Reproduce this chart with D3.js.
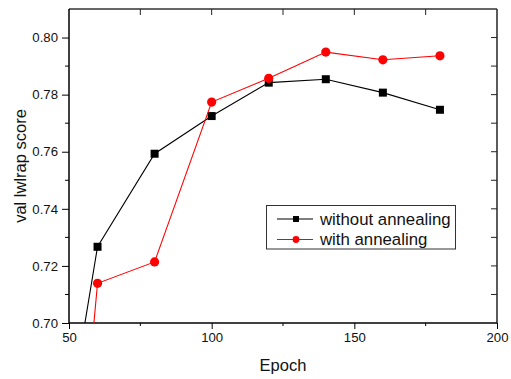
<!DOCTYPE html>
<html><head><meta charset="utf-8">
<script src="https://cdn.jsdelivr.net/npm/d3@7"></script>
<style>body{margin:0;background:#fff}svg{display:block}text{font-family:"Liberation Sans",Arial,sans-serif;fill:#111}</style>
</head><body><svg id="c" width="511" height="379"></svg>
<script>
const epochs = [40, 60, 80, 100, 120, 140, 160, 180];
const withoutAnnealing = [0.606, 0.7267, 0.7593, 0.7725, 0.7842, 0.7854, 0.7807, 0.7747];
const withAnnealing = [0.496, 0.7139, 0.7214, 0.7774, 0.7857, 0.7949, 0.7922, 0.7936];
const seriesNames = ["without annealing", "with annealing"];
const xTicks = [50, 100, 150, 200];
const yTicks = [0.70, 0.72, 0.74, 0.76, 0.78, 0.80];

const svg = d3.select("#c");
const L = 69, R = 497, T = 9, B = 323;
const x = d3.scaleLinear().domain([50, 200]).range([L, R]);
const y = d3.scaleLinear().domain([0.70, 0.81]).range([B, T]);

svg.append("clipPath").attr("id", "clip").append("rect")
  .attr("x", L).attr("y", T).attr("width", R - L).attr("height", B - T);

// frame top/right
svg.append("line").attr("x1", L).attr("x2", R).attr("y1", T).attr("y2", T).attr("stroke", "#333").attr("stroke-width", 1.6);
svg.append("line").attr("x1", R).attr("x2", R).attr("y1", T).attr("y2", B).attr("stroke", "#333").attr("stroke-width", 1.6);

// top ticks (inward)
const xMinor = d3.range(50, 201, 25);
svg.append("g").selectAll("line").data(xMinor.filter(v => v > 50 && v < 200)).join("line")
  .attr("x1", d => x(d)).attr("x2", d => x(d)).attr("y1", T).attr("y2", T + 6).attr("stroke", "#222");
// right ticks (inward)
const yMinor = d3.range(0, 11).map(i => +(0.70 + i * 0.01).toFixed(2));
svg.append("g").selectAll("line").data(yMinor.filter(v => v > 0.70)).join("line")
  .attr("x1", R).attr("x2", R - 6).attr("y1", d => y(d)).attr("y2", d => y(d)).attr("stroke", "#222");

// bottom axis
const gx = svg.append("g").attr("transform", `translate(0,${B})`)
  .call(d3.axisBottom(x).tickValues(xTicks).tickSize(6).tickPadding(4).tickFormat(d3.format("d")));
gx.append("g").selectAll("line").data(xMinor.filter(v => !xTicks.includes(v))).join("line")
  .attr("x1", d => x(d)).attr("x2", d => x(d)).attr("y1", 0).attr("y2", 3).attr("stroke", "#000");
// left axis
const gy = svg.append("g").attr("transform", `translate(${L},0)`)
  .call(d3.axisLeft(y).tickValues(yTicks).tickSize(7).tickPadding(4).tickFormat(d3.format(".2f")));
gy.append("g").selectAll("line").data(yMinor.filter(v => !yTicks.some(t => Math.abs(t - v) < 1e-9))).join("line")
  .attr("x1", 0).attr("x2", -4).attr("y1", d => y(d)).attr("y2", d => y(d)).attr("stroke", "#000");
[gx, gy].forEach(g => {
  g.select(".domain").attr("stroke", "#000").attr("stroke-width", 1.5);
  g.selectAll(".tick line").attr("stroke", "#000");
  g.selectAll("text").attr("font-size", 13.2).attr("font-family", '"Liberation Sans",Arial,sans-serif').attr("fill", "#111");
});
gx.select(".domain").attr("d", `M${L},0H${R}`);
gy.select(".domain").attr("d", `M0,${T}V${B}`);

// titles
svg.append("text").attr("x", (L + R) / 2).attr("y", 371).attr("text-anchor", "middle").attr("font-size", 16.5).text("Epoch");
svg.append("text").attr("transform", `translate(26,${(T + B) / 2}) rotate(-90)`).attr("text-anchor", "middle").attr("font-size", 16.5).text("val lwlrap score");

// series
const series = [
  {name: seriesNames[0], vals: withoutAnnealing, color: "#000", shape: "square"},
  {name: seriesNames[1], vals: withAnnealing, color: "#ff0000", shape: "circle"}
];
const line = d3.line().x(d => x(d[0])).y(d => y(d[1]));
const plot = svg.append("g").attr("clip-path", "url(#clip)");
series.forEach(s => {
  const pts = epochs.map((e, i) => [e, s.vals[i]]);
  plot.append("path").attr("d", line(pts)).attr("fill", "none").attr("stroke", s.color).attr("stroke-width", 1.1);
  const g = plot.append("g");
  if (s.shape === "square") {
    g.selectAll("rect").data(pts).join("rect")
      .attr("x", d => x(d[0]) - 4).attr("y", d => y(d[1]) - 4).attr("width", 8).attr("height", 8).attr("fill", s.color);
  } else {
    g.selectAll("circle").data(pts).join("circle")
      .attr("cx", d => x(d[0])).attr("cy", d => y(d[1])).attr("r", 4.6).attr("fill", s.color);
  }
});

// legend
const lg = svg.append("g");
lg.append("rect").attr("x", 266.5).attr("y", 205.5).attr("width", 189).attr("height", 43.5)
  .attr("fill", "#fff").attr("stroke", "#333").attr("stroke-width", 1);
series.forEach((s, i) => {
  const cy = 219 + i * 20.5;
  lg.append("line").attr("x1", 277).attr("x2", 313).attr("y1", cy).attr("y2", cy).attr("stroke", s.color).attr("stroke-width", 1.1);
  if (s.shape === "square") lg.append("rect").attr("x", 293).attr("y", cy - 3).attr("width", 6).attr("height", 6).attr("fill", s.color);
  else lg.append("circle").attr("cx", 296).attr("cy", cy).attr("r", 3.4).attr("fill", s.color);
  lg.append("text").attr("x", 320).attr("y", cy + 5.8).attr("font-size", 16.8).text(s.name);
});
</script></body></html>
